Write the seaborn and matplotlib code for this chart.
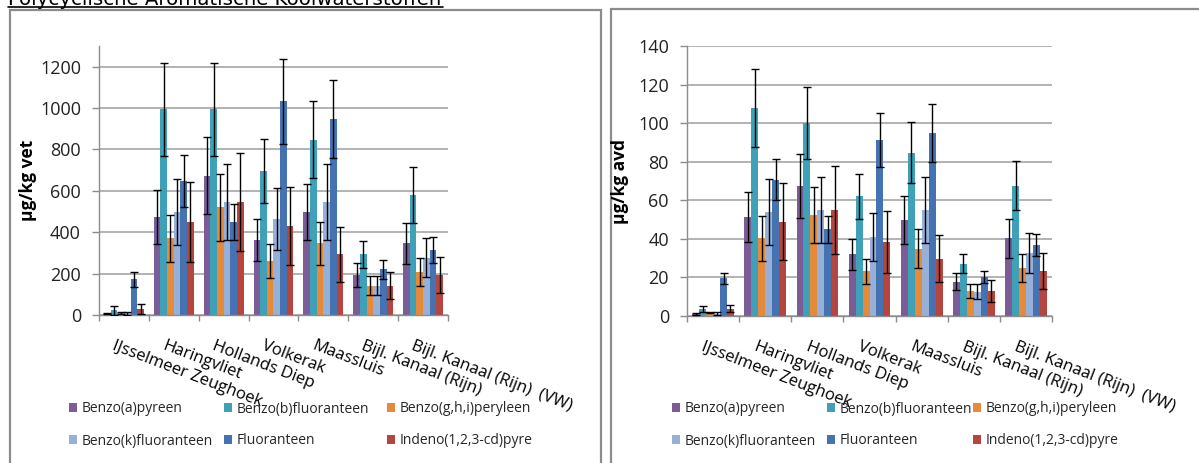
import numpy as np
import pandas as pd
import matplotlib
matplotlib.use("Agg")
import matplotlib.pyplot as plt
from matplotlib.lines import Line2D
from matplotlib.patches import Rectangle
import matplotlib.transforms as mtransforms
import seaborn as sns

# ---------------- data ----------------
categories = ["IJsselmeer Zeughoek", "Haringvliet", "Hollands Diep", "Volkerak",
              "Maassluis", "Bijl. Kanaal (Rijn)", "Bijl. Kanaal (Rijn)  (VW)"]
series = ["Benzo(a)pyreen", "Benzo(b)fluoranteen", "Benzo(g,h,i)peryleen",
          "Benzo(k)fluoranteen", "Fluoranteen", "Indeno(1,2,3-cd)pyre"]

# left panel: µg/kg vet
vet_benzo_a = [8, 474, 673, 362, 498, 193, 346]
vet_benzo_b = [22, 995, 995, 697, 847, 293, 580]
vet_benzo_ghi = [8, 370, 520, 261, 346, 142, 209]
vet_benzo_k = [8, 498, 546, 464, 546, 142, 277]
vet_fluor = [172, 648, 449, 1033, 946, 221, 312]
vet_indeno = [29, 449, 546, 430, 293, 142, 195]

vet_err_benzo_a = [4, 130, 185, 100, 137, 57, 98]
vet_err_benzo_b = [20, 225, 225, 155, 187, 67, 133]
vet_err_benzo_ghi = [5, 113, 160, 83, 105, 47, 67]
vet_err_benzo_k = [6, 160, 185, 152, 183, 47, 95]
vet_err_fluor = [36, 126, 86, 205, 188, 46, 63]
vet_err_indeno = [22, 193, 237, 187, 132, 65, 87]

# right panel: µg/kg avd
avd_benzo_a = [1.2, 51.2, 67.5, 32.0, 49.8, 17.8, 40.2]
avd_benzo_b = [3.5, 108.0, 100.0, 62.0, 84.7, 27.2, 67.6]
avd_benzo_ghi = [1.8, 40.2, 52.4, 23.1, 35.0, 13.1, 24.7]
avd_benzo_k = [1.2, 54.0, 55.0, 41.0, 55.0, 12.6, 32.8]
avd_fluor = [19.5, 70.7, 45.0, 91.2, 94.7, 20.3, 36.7]
avd_indeno = [3.8, 48.8, 55.0, 38.3, 29.8, 13.1, 23.3]

avd_err_benzo_a = [0.5, 13.0, 16.5, 8.0, 12.5, 4.4, 10.2]
avd_err_benzo_b = [1.5, 20.3, 18.5, 11.7, 15.7, 5.0, 12.6]
avd_err_benzo_ghi = [0.5, 11.5, 14.7, 6.7, 10.0, 3.7, 7.2]
avd_err_benzo_k = [0.8, 17.0, 17.0, 12.6, 17.0, 4.0, 10.3]
avd_err_fluor = [2.8, 10.5, 7.0, 14.0, 15.0, 3.1, 5.7]
avd_err_indeno = [1.8, 20.0, 22.7, 16.0, 12.4, 5.8, 9.3]

vet_values = [vet_benzo_a, vet_benzo_b, vet_benzo_ghi, vet_benzo_k, vet_fluor, vet_indeno]
vet_errors = [vet_err_benzo_a, vet_err_benzo_b, vet_err_benzo_ghi, vet_err_benzo_k, vet_err_fluor, vet_err_indeno]
avd_values = [avd_benzo_a, avd_benzo_b, avd_benzo_ghi, avd_benzo_k, avd_fluor, avd_indeno]
avd_errors = [avd_err_benzo_a, avd_err_benzo_b, avd_err_benzo_ghi, avd_err_benzo_k, avd_err_fluor, avd_err_indeno]

yticks_vet = [0, 200, 400, 600, 800, 1000, 1200]
yticks_avd = [0, 20, 40, 60, 80, 100, 120, 140]

title = "Polycyclische Aromatische Koolwaterstoffen"

colors = ["#7B5C97", "#3FA1B8", "#E5893B", "#97B0D8", "#4572B0", "#B4453F"]

# ---------------- style ----------------
sns.set_theme(style="white")
plt.rcParams["font.family"] = ["Open Sans", "DejaVu Sans"]

W, H = 1199, 463
fig = plt.figure(figsize=(W / 100, H / 100), dpi=100)


def fx(px):
    return px / W


def fy(py):
    return 1 - py / H


GRID = "#A6A6A6"
AXC = "#8C8C8C"


def make_panel(x0, x1, ytop, ybot, values, errors, ymax, yticks, ylabel, ylabel_x,
               legend_cols, legend_rows):
    ax = fig.add_axes([fx(x0), fy(ybot), fx(x1) - fx(x0), fy(ytop) - fy(ybot)])
    df = pd.DataFrame({
        "site": [c for s in series for c in categories],
        "compound": [s for s in series for _ in categories],
        "value": [v for vals in values for v in vals],
    })
    sns.barplot(data=df, x="site", y="value", hue="compound", order=categories,
                hue_order=series, palette=colors, saturation=1, errorbar=None,
                width=0.8, linewidth=0, ax=ax, legend=False, zorder=2)
    for cont, errs in zip(ax.containers, errors):
        xs = [r.get_x() + r.get_width() / 2 for r in cont]
        hs = [r.get_height() for r in cont]
        ax.errorbar(xs, hs, yerr=errs, fmt="none", ecolor="black", elinewidth=1.0,
                    capsize=3, capthick=1.0, zorder=3)
    ax.set_ylim(0, ymax)
    ax.set_xlim(-0.5, len(categories) - 0.5)
    ax.set_yticks(yticks)
    ax.set_yticklabels([str(t) for t in yticks])
    ax.yaxis.grid(True, color=GRID, linewidth=1.2, zorder=0)
    ax.set_axisbelow(True)
    for s in ["top", "right"]:
        ax.spines[s].set_visible(False)
    for s in ["left", "bottom"]:
        ax.spines[s].set_color(AXC)
        ax.spines[s].set_linewidth(1.0)
    ax.tick_params(axis="y", which="major", length=5, color=AXC, width=1.0,
                   labelsize=13, pad=8, left=True, labelcolor="#222222")
    ax.set_xticks(range(len(categories)))
    ax.set_xticks(np.arange(-0.5, len(categories)), minor=True)
    ax.tick_params(axis="x", which="minor", length=4, color=AXC, width=1.0, bottom=True)
    ax.tick_params(axis="x", which="major", length=0, labelsize=12, pad=0, labelcolor="black")
    ax.set_xticklabels(categories, rotation=-21, ha="left", va="top", rotation_mode="anchor")
    off = mtransforms.ScaledTranslation(-8 / 100, -23 / 100, fig.dpi_scale_trans)
    for lab in ax.get_xticklabels():
        lab.set_transform(lab.get_transform() + off)
    ax.set_xlabel("")
    ax.set_ylabel("")
    fig.text(fx(ylabel_x), fy((ytop + ybot) / 2), ylabel, rotation=90, ha="center", va="center",
             fontsize=12.5, fontweight="bold", color="black")
    # legend: 2 rows x 3 columns, row-major as in the reference
    for i, (name, col) in enumerate(zip(series, colors)):
        r, c = divmod(i, 3)
        h = Rectangle((0, 0), 1, 1, facecolor=col, edgecolor="none")
        fig.legend([h], [name], loc="center left",
                   bbox_to_anchor=(fx(legend_cols[c]), fy(legend_rows[r])), frameon=False,
                   fontsize=10, handlelength=0.6, handleheight=0.6, handletextpad=0.3,
                   borderaxespad=0, borderpad=0)
    return ax


make_panel(99, 448, 46, 315, vet_values, vet_errors, 1300, yticks_vet, "µg/kg vet", 28,
           [69, 224, 387], [409, 441])
make_panel(687, 1052, 46, 316, avd_values, avd_errors, 140, yticks_avd, "µg/kg avd", 620,
           [672, 827, 973], [409, 441])

# panel frames
fig.add_artist(Rectangle((fx(10), fy(480)), fx(601) - fx(10), fy(10) - fy(480), fill=False,
                         edgecolor="#8C8C8C", linewidth=1.6, transform=fig.transFigure))
fig.add_artist(Rectangle((fx(611), fy(480)), fx(1220) - fx(611), fy(9) - fy(480), fill=False,
                         edgecolor="#8C8C8C", linewidth=1.6, transform=fig.transFigure))

# title (cut at top in the reference) with underline
fig.text(fx(8), fy(5), title, ha="left", va="baseline", fontsize=14.2,
         family=["DejaVu Sans"], color="black")
fig.add_artist(Line2D([fx(8), fx(443)], [fy(7.3), fy(7.3)], color="black", linewidth=1.2,
                      transform=fig.transFigure))

fig.savefig("out.png", dpi=100)
